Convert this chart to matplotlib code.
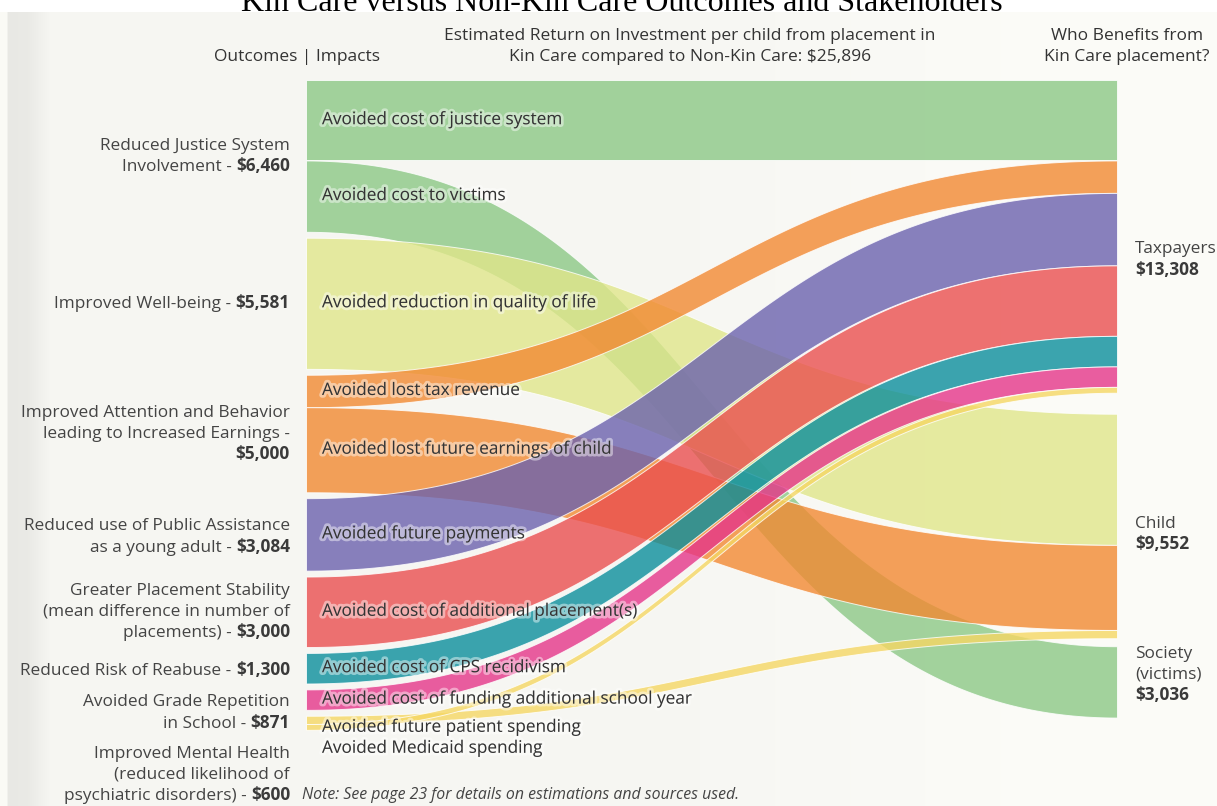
import numpy as np
import matplotlib.pyplot as plt
from matplotlib import font_manager
from matplotlib import patheffects as pe

# left column: outcomes and their estimated value per child
outcomes = ["Reduced Justice System\nInvolvement - ",
            "Improved Well-being - ",
            "Improved Attention and Behavior\nleading to Increased Earnings -\n",
            "Reduced use of Public Assistance\nas a young adult - ",
            "Greater Placement Stability\n(mean difference in number of\nplacements) - ",
            "Reduced Risk of Reabuse - ",
            "Avoided Grade Repetition\nin School - ",
            "Improved Mental Health\n(reduced likelihood of\npsychiatric disorders) - "]
outcome_values = [6460, 5581, 5000, 3084, 3000, 1300, 871, 600]

# right column: who benefits
stakeholders = ["Taxpayers", "Child", "Society\n(victims)"]
stakeholder_values = [13308, 9552, 3036]

# impacts linking outcomes (source) to stakeholders (target)
impacts = ["Avoided cost of justice system",
           "Avoided cost to victims",
           "Avoided reduction in quality of life",
           "Avoided lost tax revenue",
           "Avoided lost future earnings of child",
           "Avoided future payments",
           "Avoided cost of additional placement(s)",
           "Avoided cost of CPS recidivism",
           "Avoided cost of funding additional school year",
           "Avoided future patient spending",
           "Avoided Medicaid spending"]
impact_source = [0, 0, 1, 2, 2, 3, 4, 5, 6, 7, 7]
impact_target = [0, 2, 1, 0, 1, 0, 0, 0, 0, 1, 0]
impact_values = [3424, 3036, 5581, 1380, 3620, 3084, 3000, 1300, 871, 351, 249]

impact_colors = ["#8cc886", "#8cc886", "#e0e68a", "#f28932", "#f28932",
                 "#6b62ae", "#ea4f4f", "#0b8e9c", "#e53589", "#f5d764", "#f5d764"]

names = {f.name for f in font_manager.fontManager.ttflist}
body_font = "Open Sans" if "Open Sans" in names else "DejaVu Sans"
title_font = "Liberation Serif" if "Liberation Serif" in names else "DejaVu Serif"
plt.rcParams["font.family"] = body_font

W, H = 1217, 806
fs = 12.4
fig = plt.figure(figsize=(W / 100, H / 100), dpi=100, facecolor="white")

# page background with a soft grey strip on the left
bg = fig.add_axes([0, 0, 1, 1 - 12 / H], zorder=-2)
bg.axis("off")
px = np.arange(W)
shade = np.interp(px, [0, 6, 8, 28, 50, 700, 1000, W], [250, 250, 232, 234, 246, 247, 251, 252])
grad = np.repeat(shade[None, :, None], 3, axis=2) / 255.0
grad[..., 2] -= 4 / 255.0
bg.imshow(grad, aspect="auto", extent=[0, 1, 0, 1])
bg.set_xlim(0, 1)
bg.set_ylim(0, 1)

# sankey area: x=0 left column, x=1 right column, y in dollars (downwards)
k = 0.0235                 # pixels per dollar
gap_left = 5.9 / k
gaps_right = [21 / k, 8 / k]
span_px = 650
ax = fig.add_axes([306 / W, 1 - 730 / H, (1117 - 306) / W, span_px / H])
ax.set_xlim(0, 1)
ax.set_ylim(span_px / k, 0)
ax.axis("off")
ax.patch.set_alpha(0)

left_top = np.concatenate([[0], np.cumsum(np.array(outcome_values[:-1]) + gap_left)])
right_top = np.concatenate([[0], np.cumsum(np.array(stakeholder_values[:-1]) + np.array(gaps_right))])

bw = 5 / (1117 - 306)
ax.bar(np.full(len(outcome_values), -bw), outcome_values, bottom=left_top, width=bw,
       align="edge", color="black", zorder=5)
ax.bar(np.ones(len(stakeholder_values)), stakeholder_values, bottom=right_top, width=bw,
       align="edge", color="black", zorder=5)

# stack each flow inside its source and target node
src_off = list(left_top)
dst_off = list(right_top)
t = np.linspace(0, 1, 300)
xs = 1.5 * t * (1 - t) + t ** 3
s = 3 * t ** 2 - 2 * t ** 3
flow_pos = []
for i, v in enumerate(impact_values):
    a, b = impact_source[i], impact_target[i]
    y0, y1 = src_off[a], dst_off[b]
    src_off[a] += v
    dst_off[b] += v
    flow_pos.append(y0)
    top = y0 + (y1 - y0) * s
    ax.fill_between(xs, top, top + v, color=impact_colors[i], alpha=0.8,
                    edgecolor="white", linewidth=0.7, zorder=2)

halo = [pe.withStroke(linewidth=4, foreground="white", alpha=0.45)]
label_shift = {9: 5, 10: 26}
for i, lab in enumerate(impacts):
    if i in label_shift:
        yc = left_top[7] + outcome_values[7] / 2
        dy = label_shift[i]
    else:
        yc = flow_pos[i] + impact_values[i] / 2
        dy = 0
    ax.annotate(lab, (0, yc), xytext=(16, -dy), textcoords="offset pixels",
                ha="left", va="center", fontsize=fs, color="#333333",
                path_effects=halo, zorder=6)

# outcome labels with the amount in bold
line_h = 20.5
outcome_shift = [0, 0, 0, 2, 0, 2, 13, 52]
for j, (txt, v) in enumerate(zip(outcomes, outcome_values)):
    lines = txt.split("\n")
    n = len(lines)
    yc = left_top[j] + v / 2
    for li, line in enumerate(lines):
        dy = outcome_shift[j] + (li - (n - 1) / 2) * line_h
        if li == n - 1:
            amt = ax.annotate(f"${v:,}", (0, yc), xytext=(-16, -dy), textcoords="offset pixels",
                              ha="right", va="center", fontsize=fs, fontweight="bold",
                              color="#3a3a3a", annotation_clip=False)
            if line:
                ax.annotate(line, (0, 0), xycoords=amt, ha="right", va="bottom",
                            fontsize=fs, color="#444444", annotation_clip=False)
        else:
            ax.annotate(line, (0, yc), xytext=(-16, -dy), textcoords="offset pixels",
                        ha="right", va="center", fontsize=fs, color="#444444",
                        annotation_clip=False)

# stakeholder labels
stake_shift = [23, 8, -7]
for j, (name, v) in enumerate(zip(stakeholders, stakeholder_values)):
    lines = name.split("\n") + [f"${v:,}"]
    n = len(lines)
    yc = right_top[j] + v / 2
    for li, line in enumerate(lines):
        dy = stake_shift[j] + (li - (n - 1) / 2) * line_h
        ax.annotate(line, (1, yc), xytext=(18, -dy), textcoords="offset pixels",
                    ha="left", va="center", fontsize=fs,
                    fontweight="bold" if li == n - 1 else "normal",
                    color="#3a3a3a" if li == n - 1 else "#444444",
                    annotation_clip=False)

# headers
total = sum(stakeholder_values)
hs = 12.5
fig.text(297 / W, 1 - 57 / H, "Outcomes | Impacts", ha="center", va="center",
         fontsize=hs, color="#333333")
fig.text(690 / W, 1 - 46.5 / H,
         f"Estimated Return on Investment per child from placement in\n"
         f"Kin Care compared to Non-Kin Care: ${total:,}",
         ha="center", va="center", fontsize=hs, color="#333333", linespacing=1.4)
fig.text(1127 / W, 1 - 46.5 / H, "Who Benefits from\nKin Care placement?",
         ha="center", va="center", fontsize=hs, color="#333333", linespacing=1.4)

fig.text(302 / W, 1 - 795 / H, "Note: See page 23 for details on estimations and sources used.",
         ha="left", va="center", fontsize=11.4, style="italic", color="#444444")

fig.text(622 / W, 1 - 11 / H, "Kin Care versus Non-Kin Care Outcomes and Stakeholders",
         ha="center", va="baseline", fontsize=23, family=title_font, color="black")

fig.savefig("out.png", dpi=100, facecolor="white")
